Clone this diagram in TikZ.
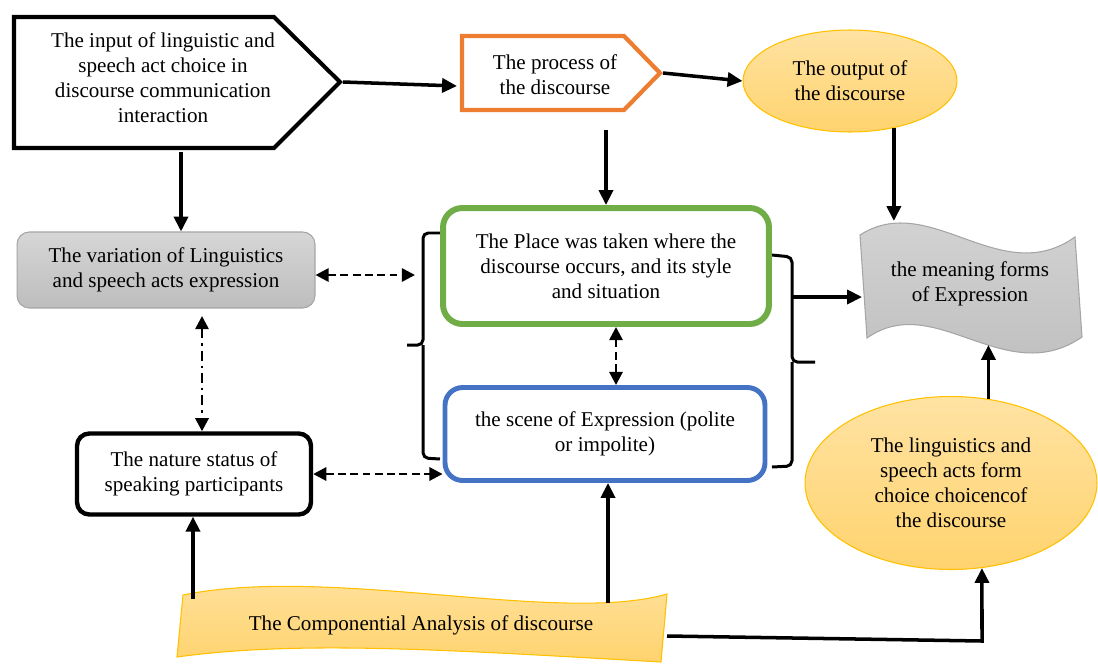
\documentclass[tikz,border=0pt]{standalone}
\usepackage{fontspec}
\setmainfont{Liberation Serif}
\usetikzlibrary{arrows.meta,shapes.geometric}
\definecolor{procorange}{HTML}{ED7D31}
\definecolor{placegreen}{HTML}{70AD47}
\definecolor{sceneblue}{HTML}{4472C4}
\definecolor{goldline}{HTML}{FFC000}
\definecolor{goldtop}{HTML}{FFE3A3}
\definecolor{goldbot}{HTML}{FFD36E}
\definecolor{greytop}{HTML}{D6D6D6}
\definecolor{greybot}{HTML}{BDBDBD}
\definecolor{greyline}{HTML}{A5A5A5}
\tikzset{
  label text/.style={align=center,font=\fontsize{12}{14.2}\selectfont,inner sep=1pt},
  solid arrow/.style={line width=2pt,-{Triangle[length=8.5pt,width=8pt]}},
  dashed link/.style={line width=1.5pt,dash pattern=on 4.5pt off 2.5pt,
    {Triangle[length=7.5pt,width=7.5pt]}-{Triangle[length=7.5pt,width=7.5pt]}},
  dotdash link/.style={line width=1.5pt,dash pattern=on 5.5pt off 3pt on 1.2pt off 3pt,
    {Triangle[length=7.5pt,width=7.5pt]}-{Triangle[length=7.5pt,width=7.5pt]}},
  brace line/.style={line width=1.7pt,rounded corners=3pt},
  gold fill/.style={top color=goldtop,bottom color=goldbot,draw=goldline,line width=0.6pt},
  grey fill/.style={top color=greytop,bottom color=greybot,draw=greyline,line width=0.6pt},
}
\begin{document}
\begin{tikzpicture}[x=0.02cm,y=-0.02cm]
      \useasboundingbox (0,0) rectangle (1098,663);
      % shapes drawn as paths
      \draw[line width=2.3pt,line join=miter] (14,17) -- (274,17) -- (340,82) -- (274,148) -- (14,148) -- cycle;
      \draw[procorange,line width=2.4pt,line join=miter] (462,36) -- (624,36) -- (660,73) -- (624,110) -- (462,110) -- cycle;
      \draw[grey fill] (860,235) .. controls (930,190) and (1000,290) .. (1075,237)
        -- (1082,337) .. controls (1005,390) and (935,290) .. (867,338) -- cycle;
      \draw[gold fill] (183,595) .. controls (330,565) and (560,625) .. (667,594)
        -- (661,662) .. controls (450,650) and (300,640) .. (177,657) -- cycle;
      \draw[brace line] (440,233) -- (423,233) -- (423,345) -- (407,345)
        (423,345) -- (423,458) -- (440,459);
      \draw[brace line] (772,255) -- (792,257) -- (792,362) -- (815,362)
        (792,362) -- (792,466) -- (772,467);
      % nodes
      \draw
        (163,78) node[label text] (input){The input of linguistic and\\speech act choice in\\discourse communication\\interaction}
        (555,75) node[label text] (process){The process of\\the discourse}
        (850,81) node[label text,ellipse,gold fill,minimum width=4.28cm,minimum height=2.04cm] (output){The output of\\the discourse}
        (166,270) node[label text,grey fill,rounded corners=7pt,minimum width=5.96cm,minimum height=1.52cm] (variation){The variation of Linguistics\\and speech acts expression}
        (606,266) node[label text,draw=placegreen,line width=3.4pt,rounded corners=11pt,minimum width=6.52cm,minimum height=2.32cm] (place){The Place was taken where the\\discourse occurs, and its style\\and situation}
        (605,434) node[label text,draw=sceneblue,line width=2.8pt,rounded corners=10pt,minimum width=6.4cm,minimum height=1.86cm] (scene){the scene of Expression (polite\\or impolite)}
        (194,474) node[label text,draw,line width=2.5pt,rounded corners=7pt,minimum width=4.68cm,minimum height=1.62cm] (nature){The nature status of\\speaking participants}
        (970,284) node[label text] (meaning){the meaning forms\\of Expression}
        (951,483) node[label text,ellipse,gold fill,minimum width=5.84cm,minimum height=3.46cm] (ling){The linguistics and\\speech acts form\\choice choicencof\\the discourse}
        (421,625) node[label text] (comp){The Componential Analysis of discourse};
      % free ends on the drawn shapes
      \coordinate (inputtip) at (343,82);
      \coordinate (inputbot) at (181,152);
      \coordinate (processleft) at (457,86);
      \coordinate (processtip) at (663,73);
      \coordinate (processbot) at (606,130);
      \coordinate (meaningtop) at (894,221);
      \coordinate (meaningleft) at (862,297);
      \coordinate (meaningbot) at (989,345);
      \coordinate (leftbrace) at (415,275);
      \coordinate (rightbrace) at (792,297);
      \coordinate (varbot) at (202,316);
      \coordinate (comptopA) at (193,599);
      \coordinate (comptopB) at (608,603);
      \coordinate (compright) at (667,636);
      \coordinate (corner) at (982,641);
      \begin{scope}[solid arrow]
        \draw (inputtip) to (processleft);
        \draw (processtip) to (output.west);
        \draw (inputbot) to (inputbot |- variation.north);
        \draw (processbot) to (processbot |- place.north);
        \draw (output.-47) to (output.-47 |- meaningtop);
        \draw (rightbrace) to (meaningleft);
        \draw (ling.66) to (ling.66 |- meaningbot);
        \draw (comptopA) to (comptopA |- nature.south);
        \draw (comptopB) to (comptopB |- scene.south);
        \draw (compright) -- (corner) to (ling.-70);
      \end{scope}
      \begin{scope}[dashed link]
        \draw (variation.east |- leftbrace) to (leftbrace);
        \draw (nature.east) to (nature.east -| scene.west);
        \draw ([xshift=0.2cm]place.south) to ([xshift=0.2cm]place.south |- scene.north);
      \end{scope}
      \draw[dotdash link] (varbot) to (varbot |- nature.north);
    \end{tikzpicture}
\end{document}
